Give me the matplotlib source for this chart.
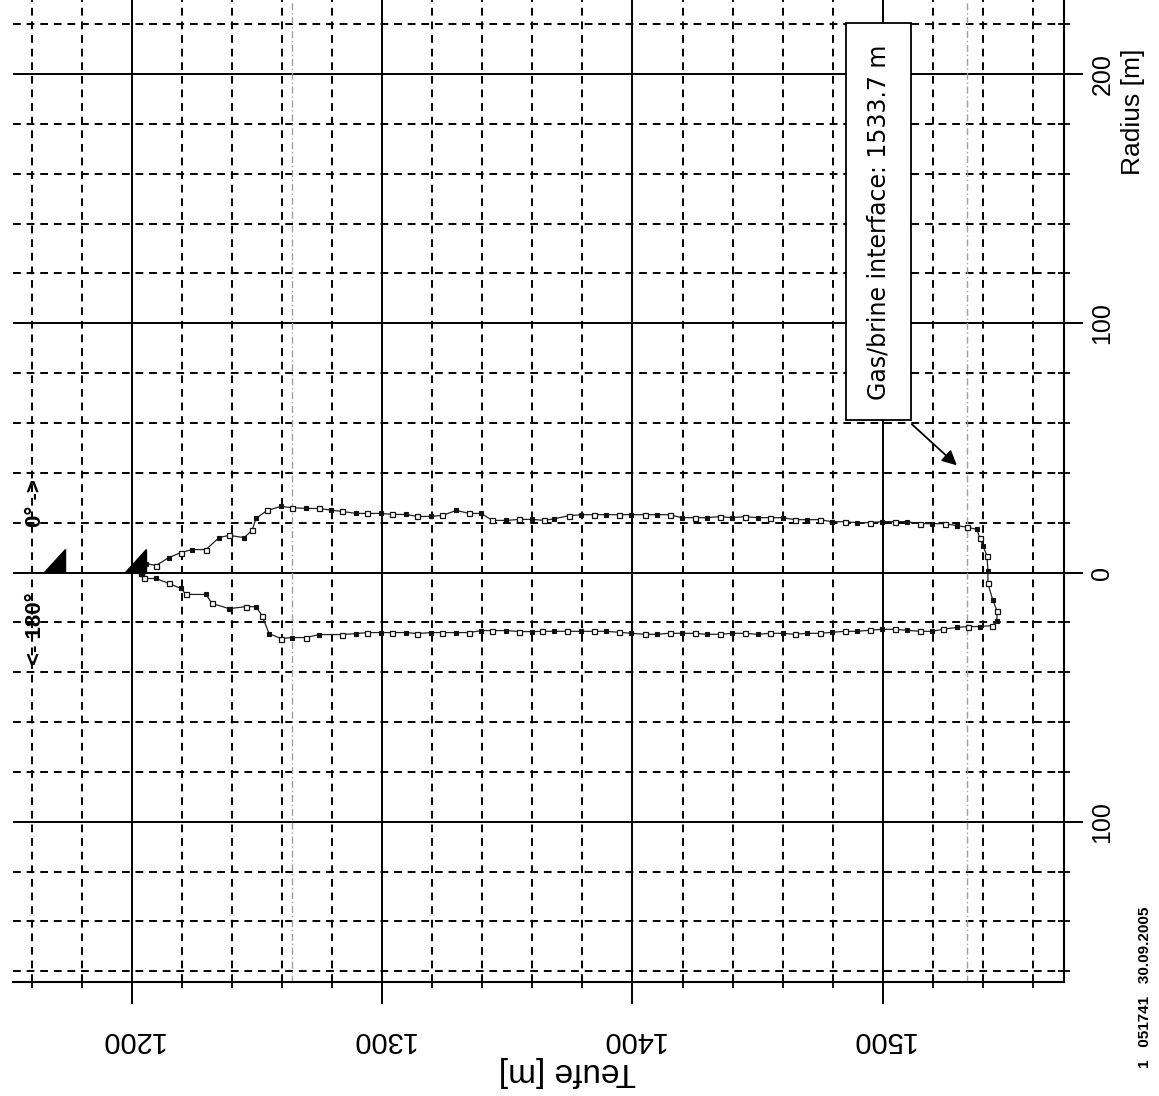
import numpy as np
import matplotlib
matplotlib.use("Agg")
import matplotlib.pyplot as plt
from matplotlib.ticker import MultipleLocator, FuncFormatter

# Cavern contour, 0 deg side (positive radius)
upper_depth = [1203.5, 1205.6, 1209.6, 1214.8, 1219.6, 1224.0, 1229.6, 1234.8, 1238.8, 1244.8,
               1248.0, 1249.6, 1254.0, 1259.6, 1264.0, 1269.6, 1274.8, 1279.6, 1284.0, 1289.6,
               1294.0, 1299.6, 1304.0, 1309.6, 1314.0, 1319.6, 1324.0, 1329.6, 1334.8, 1339.6,
               1344.0, 1349.6, 1354.8, 1360.0, 1364.8, 1368.8, 1374.8, 1379.6, 1384.8, 1389.6,
               1394.8, 1399.6, 1404.8, 1409.6, 1414.8, 1419.6, 1424.8, 1429.6, 1434.8, 1439.6,
               1444.8, 1450.0, 1454.8, 1460.0, 1464.8, 1469.6, 1474.8, 1479.6, 1484.8, 1489.6,
               1494.8, 1499.6, 1504.8, 1509.6, 1514.8, 1519.6, 1524.8, 1529.6, 1533.6, 1537.6,
               1538.8, 1540.0, 1541.6, 1542.0]
upper_radius = [0.0, 3.6, 2.8, 6.0, 8.0, 9.2, 9.2, 14.0, 14.9, 14.0,
                16.9, 21.7, 24.9, 26.5, 26.0, 25.7, 25.7, 25.0, 24.5, 23.7,
                23.7, 23.7, 23.3, 23.3, 22.5, 22.5, 22.9, 24.9, 23.7, 23.7,
                20.9, 20.9, 21.3, 21.3, 20.9, 21.6, 22.8, 23.2, 23.2, 23.2,
                23.2, 23.2, 23.2, 23.2, 23.2, 22.0, 22.0, 22.0, 22.4, 22.0,
                22.4, 22.0, 22.0, 22.0, 21.2, 21.2, 21.2, 20.4, 20.4, 20.0,
                20.0, 20.4, 20.4, 20.4, 19.6, 19.6, 19.6, 18.8, 18.2, 17.3,
                13.7, 10.8, 6.8, 0.8]

# Cavern contour, 180 deg side (negative radius), incl. the sump turn
lower_depth = [1203.5, 1204.0, 1204.8, 1209.6, 1214.8, 1219.6, 1221.6, 1229.6, 1232.0, 1238.8,
               1245.6, 1249.6, 1252.0, 1254.8, 1259.6, 1264.0, 1269.6, 1274.8, 1284.0, 1289.6,
               1294.0, 1299.6, 1304.0, 1309.6, 1314.0, 1319.6, 1324.0, 1329.6, 1334.8, 1339.6,
               1344.0, 1349.6, 1354.8, 1360.0, 1364.0, 1368.8, 1374.0, 1379.6, 1384.8, 1389.6,
               1394.8, 1399.6, 1404.8, 1409.6, 1414.8, 1419.6, 1424.8, 1429.6, 1434.8, 1439.6,
               1444.8, 1450.0, 1454.8, 1460.0, 1464.8, 1469.6, 1474.8, 1479.6, 1484.8, 1489.6,
               1494.8, 1499.6, 1504.8, 1509.6, 1514.8, 1519.6, 1524.0, 1529.6, 1534.0, 1538.8,
               1543.6, 1545.6, 1545.6, 1544.0, 1542.0]
lower_radius = [0.0, -0.4, -2.4, -2.4, -4.4, -6.4, -8.8, -8.8, -12.4, -14.5,
                -13.7, -13.7, -17.3, -24.5, -26.5, -26.1, -26.1, -24.9, -24.9, -24.5,
                -24.1, -24.1, -24.1, -24.1, -24.5, -24.1, -24.1, -24.1, -24.1, -23.3,
                -23.3, -23.3, -23.7, -23.7, -23.6, -23.6, -23.6, -23.6, -23.6, -23.6,
                -24.0, -24.4, -24.8, -24.8, -24.4, -24.4, -24.4, -24.8, -24.8, -24.4,
                -24.4, -24.8, -24.4, -24.4, -24.8, -24.4, -24.4, -24.0, -23.6, -23.6,
                -23.2, -22.8, -22.8, -23.2, -23.6, -23.6, -22.8, -22.0, -21.7, -21.7,
                -21.3, -19.3, -15.3, -11.2, -4.4]

ref_depths = [1264.0, 1533.7]          # light grey reference lines
interface_depth = 1533.7
marker_depths = [1173.2, 1205.6]        # black triangles on the axis
stamp_text = "1   051741   30.09.2005"

narrow = ["Liberation Sans Narrow", "Liberation Sans", "DejaVu Sans"]
regular = ["Liberation Sans", "DejaVu Sans"]

fig = plt.figure(figsize=(11.59, 10.96), dpi=100)
ax = fig.add_axes([13 / 1159, 114 / 1096, 1051 / 1159, 982 / 1096])

ax.set_xlim(1152.5, 1572.4)
ax.set_ylim(-164.3, 229.7)

# grid
ax.xaxis.set_major_locator(MultipleLocator(100))
ax.xaxis.set_minor_locator(MultipleLocator(20))
ax.yaxis.set_major_locator(MultipleLocator(100))
ax.yaxis.set_minor_locator(MultipleLocator(20))
ax.grid(which="major", color="black", linewidth=1.4, linestyle="-", zorder=1)
ax.grid(which="minor", color="black", linewidth=1.4, linestyle=(0, (4, 3)), zorder=1)
ax.set_axisbelow(True)

for s in ["top", "left"]:
    ax.spines[s].set_visible(False)
for s in ["bottom", "right"]:
    ax.spines[s].set_linewidth(1.5)

ax.yaxis.tick_right()
ax.tick_params(axis="x", which="major", direction="out", length=16, width=1.4, pad=16)
ax.tick_params(axis="x", which="minor", direction="inout", length=9, width=1.3)
ax.tick_params(axis="y", which="major", direction="out", length=14, width=1.4, pad=5)
ax.tick_params(axis="y", which="minor", direction="inout", length=9, width=1.3)

ax.xaxis.set_major_formatter(FuncFormatter(lambda v, p: f"{int(round(v))}"))
ax.yaxis.set_major_formatter(FuncFormatter(lambda v, p: f"{int(round(abs(v)))}"))
for lab in ax.get_xticklabels():
    lab.set_rotation(180)
    lab.set_family(narrow)
    lab.set_fontsize(21)
for lab in ax.get_yticklabels():
    lab.set_rotation(90)
    lab.set_family(regular)
    lab.set_fontsize(18)
    lab.set_va("center")

ax.set_xlabel("Teufe [m]", fontsize=24, family=regular, rotation=180)
ax.xaxis.set_label_coords(0.527, -0.091)
ax.xaxis.label.set_va("center")

ax.yaxis.set_label_position("right")
ax.set_ylabel("Radius [m]", fontsize=19, family=regular, rotation=90)
ax.yaxis.set_label_coords(1.0656, 0.886)
ax.yaxis.label.set_va("center")
ax.yaxis.label.set_ha("center")

# reference lines
for d in ref_depths:
    ax.axvline(d, color="#a0a0a0", linewidth=1.0, linestyle=(0, (5, 2, 1, 2)), zorder=2)

# contour
prof_d = np.concatenate([upper_depth, lower_depth[::-1]])
prof_r = np.concatenate([upper_radius, lower_radius[::-1]])
ax.plot(prof_d, prof_r, color="#222222", linewidth=0.9, zorder=4)
ax.plot(prof_d[::2], prof_r[::2], linestyle="none", marker="s", ms=3.6,
        mfc="white", mec="#111111", mew=0.9, zorder=5)
ax.plot(prof_d[1::2], prof_r[1::2], linestyle="none", marker="s", ms=3.0,
        mfc="#111111", mec="#111111", mew=0.8, zorder=5)

# triangles
tri_w, tri_h = 8.4, 9.6
for d in marker_depths:
    ax.fill([d - tri_w, d, d], [0.3, 0.3, tri_h], color="black", zorder=6)

# direction texts
ax.text(1161.5, 28.0, "0° ->", rotation=90, fontsize=16, fontweight="bold",
        family=regular, ha="center", va="center", zorder=6)
ax.text(1161.5, -22.4, "<- 180°", rotation=90, fontsize=16, fontweight="bold",
        family=regular, ha="center", va="center", zorder=6)

# gas / brine interface annotation
ax.text(1498.2, 140.7, f"Gas/brine interface: {interface_depth} m", rotation=90,
        fontsize=17, family="DejaVu Sans", ha="center", va="center", zorder=8,
        bbox=dict(boxstyle="square,pad=0.88", facecolor="white", edgecolor="black",
                  linewidth=1.3))
ax.annotate("", xy=(1529.6, 43.0), xytext=(1511.6, 59.5),
            arrowprops=dict(arrowstyle="-|>", color="black", lw=1.3,
                            mutation_scale=22, shrinkA=0, shrinkB=0),
            zorder=8)

fig.text(1145 / 1159, 1 - 987 / 1096, stamp_text, rotation=90, fontsize=11,
         fontweight="bold", family=narrow, ha="center", va="center")

fig.savefig("out.png", dpi=100, facecolor="white")
